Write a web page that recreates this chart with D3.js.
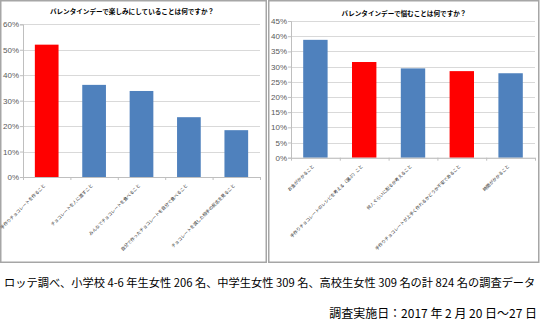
<!DOCTYPE html>
<html><head><meta charset="utf-8">
<script src="https://cdn.jsdelivr.net/npm/d3@7"></script>
<style>
html,body{margin:0;padding:0;background:#fff;}
svg{display:block;}
</style></head>
<body>
<svg id="c" width="541" height="324"></svg>
<script>
const leftTitle = "バレンタインデーで楽しみにしていることは何ですか？";
const leftCategories = ["手作りチョコレートを作ること","チョコレートを人に渡すこと","みんなでチョコレートを食べること","自分で作ったチョコレートを自分で食べること","チョコレートを渡した相手の反応を見ること"];
const leftValues = [52.0, 36.2, 33.8, 23.5, 18.4];
const leftColors = ["red","blue","blue","blue","blue"];
const leftTicks = [0,10,20,30,40,50,60];

const rightTitle = "バレンタインデーで悩むことは何ですか？";
const rightCategories = ["お金がかかること","手作りチョコレートのレシピを考える（選ぶ）こと","何人ぐらいに配るか考えること","手作りチョコレートが上手く作れるかどうか不安であること","時間がかかること"];
const rightValues = [38.8, 31.5, 29.4, 28.5, 27.8];
const rightColors = ["blue","red","blue","red","blue"];
const rightTicks = [0,5,10,15,20,25,30,35,40,45];

const noteLine1 = "ロッテ調べ、小学校 4-6 年生女性 206 名、中学生女性 309 名、高校生女性 309 名の計 824 名の調査データ";
const noteLine2 = "調査実施日：2017 年 2 月 20 日～27 日";

const palette = {red:"#ff0000", blue:"#4f81bd"};
const svg = d3.select("#c");
const jp = "'Noto Sans CJK JP','Noto Sans',sans-serif";

function panel(cfg){
  const g = svg.append("g");
  g.append("rect").attr("x",cfg.box[0]).attr("y",cfg.box[1]).attr("width",cfg.box[2]).attr("height",cfg.box[3])
    .attr("fill","#fff").attr("stroke","#a6a6a6").attr("stroke-width",1.5);
  const x = d3.scaleBand().domain(cfg.cats).range(cfg.xr).paddingInner(0.5).paddingOuter(0.25);
  const y = d3.scaleLinear().domain([0,cfg.max]).range(cfg.yr);
  g.append("g").selectAll("line").data(cfg.ticks).join("line")
    .attr("x1",cfg.xr[0]).attr("x2",cfg.xr[1]).attr("y1",d=>Math.round(y(d))+0.5).attr("y2",d=>Math.round(y(d))+0.5)
    .attr("stroke","#d9d9d9").attr("stroke-width",1);
  const ya = g.append("g").attr("transform",`translate(${cfg.xr[0]},0)`)
    .call(d3.axisLeft(y).tickValues(cfg.ticks).tickSize(3).tickFormat(d=>d+"%"));
  ya.select(".domain").attr("stroke","#bfbfbf");
  ya.selectAll(".tick line").attr("stroke","#bfbfbf");
  ya.selectAll("text").attr("font-family","'Liberation Sans',Arial,sans-serif").attr("font-size",8).attr("fill","#595959").attr("x",-4);
  g.append("g").selectAll("rect").data(cfg.cats).join("rect")
    .attr("x",d=>x(d)).attr("width",x.bandwidth())
    .attr("y",(d,i)=>y(cfg.vals[i])).attr("height",(d,i)=>y(0)-y(cfg.vals[i]))
    .attr("fill",(d,i)=>palette[cfg.cols[i]]);
  const step = x.step();
  g.append("line").attr("x1",cfg.xr[0]).attr("x2",cfg.xr[1]).attr("y1",y(0)+0.5).attr("y2",y(0)+0.5).attr("stroke","#bfbfbf");
  g.append("g").selectAll("line").data(d3.range(cfg.cats.length+1)).join("line")
    .attr("x1",i=>cfg.xr[0]+i*step+0.5).attr("x2",i=>cfg.xr[0]+i*step+0.5)
    .attr("y1",y(0)).attr("y2",y(0)+3).attr("stroke","#bfbfbf");
  g.append("g").selectAll("text").data(cfg.cats).join("text")
    .attr("transform",d=>`translate(${x(d)+x.bandwidth()/2-1},${y(0)+9}) rotate(-45)`)
    .attr("text-anchor","end").attr("font-family",jp).attr("font-size",4.4).attr("fill","#262626")
    .text(d=>d);
  g.append("text").attr("x",cfg.tx).attr("y",cfg.ty).attr("text-anchor","middle")
    .attr("font-family",jp).attr("font-weight","bold").attr("font-size",6.6).attr("fill","#000")
    .text(cfg.title);
}

panel({box:[0.75,0.75,265.5,261.5], xr:[23,260], yr:[177,24.3], max:60, ticks:leftTicks,
  cats:leftCategories, vals:leftValues, cols:leftColors, title:leftTitle, tx:132, ty:14});
panel({box:[268.75,0.75,270,261.5], xr:[291,535], yr:[157.7,21], max:45, ticks:rightTicks,
  cats:rightCategories, vals:rightValues, cols:rightColors, title:rightTitle, tx:404, ty:16});

function fitText(t, target){
  const w = t.node().getComputedTextLength();
  const fs = +t.attr("font-size");
  t.attr("font-size", fs*target/w);
}
const n1 = svg.append("text").attr("x",4).attr("y",287).attr("font-family",jp).attr("font-size",11).attr("fill","#000")
  .text(noteLine1);
fitText(n1, 532);
const n2 = svg.append("text").attr("x",537).attr("y",318).attr("text-anchor","end").attr("font-family",jp).attr("font-size",11).attr("fill","#000")
  .text(noteLine2);
fitText(n2, 208);
</script>
</body></html>
